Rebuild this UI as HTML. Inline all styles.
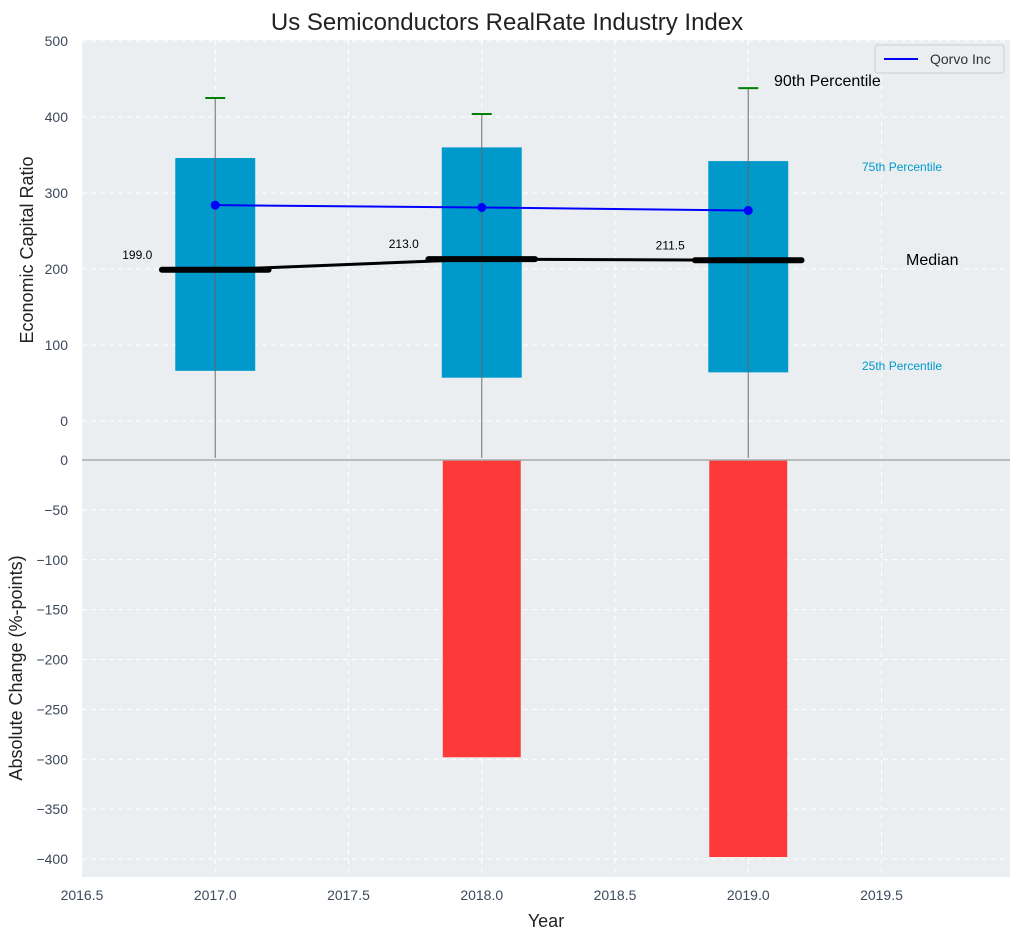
<!DOCTYPE html>
<html><head><meta charset="utf-8">
<style>
body{margin:0;background:#fff;font-family:"Liberation Sans",sans-serif;}
svg text{font-family:"Liberation Sans",sans-serif;}
</style></head><body>
<svg id="chart" width="1021" height="940" xmlns="http://www.w3.org/2000/svg">
<text x="507" y="30" text-anchor="middle" font-size="24" fill="#222">Us Semiconductors RealRate Industry Index</text>
<rect x="82" y="40" width="928" height="420" fill="#eaeef0"/>
<rect x="82" y="460" width="928" height="417" fill="#eaeef0"/>
<g id="grid"></g>
<g id="marks"></g>
<line x1="82" y1="460" x2="1010" y2="460" stroke="#aaa" stroke-width="1.5"/>
<g id="axes" font-size="14" fill="#3d4a5c"></g>
<text x="33" y="250" transform="rotate(-90 33 250)" text-anchor="middle" font-size="18" fill="#222">Economic Capital Ratio</text>
<text x="22" y="668" transform="rotate(-90 22 668)" text-anchor="middle" font-size="18" fill="#222">Absolute Change (%-points)</text>
<text x="546" y="927" text-anchor="middle" font-size="18" fill="#222">Year</text>
<g>
<rect x="875" y="45" width="129" height="28" rx="3" fill="#eaeef0" stroke="#ccc"/>
<line x1="884" y1="59" x2="918" y2="59" stroke="#0000ff" stroke-width="2"/>
<text x="930" y="64" font-size="14" fill="#333">Qorvo Inc</text>
</g>
<text x="774" y="86" font-size="16" fill="#000">90th Percentile</text>
<text x="862" y="171" font-size="12" fill="#0099cc">75th Percentile</text>
<text x="906" y="265" font-size="16" fill="#000">Median</text>
<text x="862" y="370" font-size="12" fill="#0099cc">25th Percentile</text>
</svg>
<script>
const years=[2017,2018,2019];
const p25=[66,57,64];
const p75=[346,360,342];
const p90=[425,404,438];
const medians=[199,213,211.5];
const medianLabels=["199.0","213.0","211.5"];
const qorvo=[284,281,277];
const change=[0,-298,-398];
const xTicks=[2016.5,2017,2017.5,2018,2018.5,2019,2019.5];
const topTicks=[0,100,200,300,400,500];
const botTicks=[0,-50,-100,-150,-200,-250,-300,-350,-400];

const NS="http://www.w3.org/2000/svg";
const xs=v=>82+(v-2016.5)*266.5;
const yt=v=>421-v*0.76;
const yb=v=>460-v*0.9975;
function mk(tag,attrs,parent,text){const e=document.createElementNS(NS,tag);for(const k in attrs)e.setAttribute(k,attrs[k]);if(text!==undefined)e.textContent=text;document.getElementById(parent).appendChild(e);return e;}

xTicks.forEach(t=>{
 const g=mk('line',{x1:xs(t),x2:xs(t),y1:40,y2:877,stroke:'#fff','stroke-dasharray':'5,4','stroke-width':1},'grid');
 
 
 const l=mk('text',{x:xs(t),y:900,'text-anchor':'middle'},'axes',t.toFixed(1));
 
 
});
topTicks.forEach(t=>{
 const g=mk('line',{x1:82,x2:1010,y1:yt(t),y2:yt(t),stroke:'#fff','stroke-dasharray':'5,4'},'grid');
 
 
 const l=mk('text',{x:68,y:yt(t)+5,'text-anchor':'end'},'axes',String(t));
 
 
});
botTicks.forEach(t=>{
 const g=mk('line',{x1:82,x2:1010,y1:yb(t),y2:yb(t),stroke:'#fff','stroke-dasharray':'5,4'},'grid');
 
 
 const l=mk('text',{x:68,y:yb(t)+5,'text-anchor':'end'},'axes',t<0?'\u2212'+(-t):String(t));
 
 
});
const bw=0.15*266.5;
years.forEach((yr,i)=>{
 const x=xs(yr);
 const r=mk('rect',{x:x-bw,y:yt(p75[i]),width:2*bw,height:yt(p25[i])-yt(p75[i]),fill:'#0099cc'},'marks');
 
 
 const w=mk('line',{x1:x,x2:x,y1:yt(p90[i]),y2:458,stroke:'#666','stroke-width':1.2,opacity:0.8},'marks');
 
 
 const c=mk('line',{x1:x-10,x2:x+10,y1:yt(p90[i]),y2:yt(p90[i]),stroke:'#008000','stroke-width':2},'marks');
 
 
 if(change[i]!==0){
  const b=mk('rect',{x:x-bw+1,y:yb(0),width:2*bw-2,height:yb(change[i])-yb(0),fill:'#ff2020',opacity:0.88},'marks');
  
  
 }
});
const mp=mk('polyline',{points:years.map((y,i)=>xs(y)+','+yt(medians[i])).join(' '),fill:'none',stroke:'#000','stroke-width':3},'marks');


years.forEach((yr,i)=>{
 const x=xs(yr);
 const m=mk('line',{x1:x-0.2*266.5,x2:x+0.2*266.5,y1:yt(medians[i]),y2:yt(medians[i]),stroke:'#000','stroke-width':6,'stroke-linecap':'round'},'marks');
 
 
 const t=mk('text',{x:x-78,y:yt(medians[i])-11,'text-anchor':'middle','font-size':12,fill:'#000'},'marks',medianLabels[i]);
 
 
});
const ql=mk('polyline',{points:years.map((y,i)=>xs(y)+','+yt(qorvo[i])).join(' '),fill:'none',stroke:'#0000ff','stroke-width':2},'marks');


years.forEach((yr,i)=>{
 const p=mk('circle',{cx:xs(yr),cy:yt(qorvo[i]),r:4.5,fill:'#0000ff'},'marks');
 
 
});
</script>
</body></html>
